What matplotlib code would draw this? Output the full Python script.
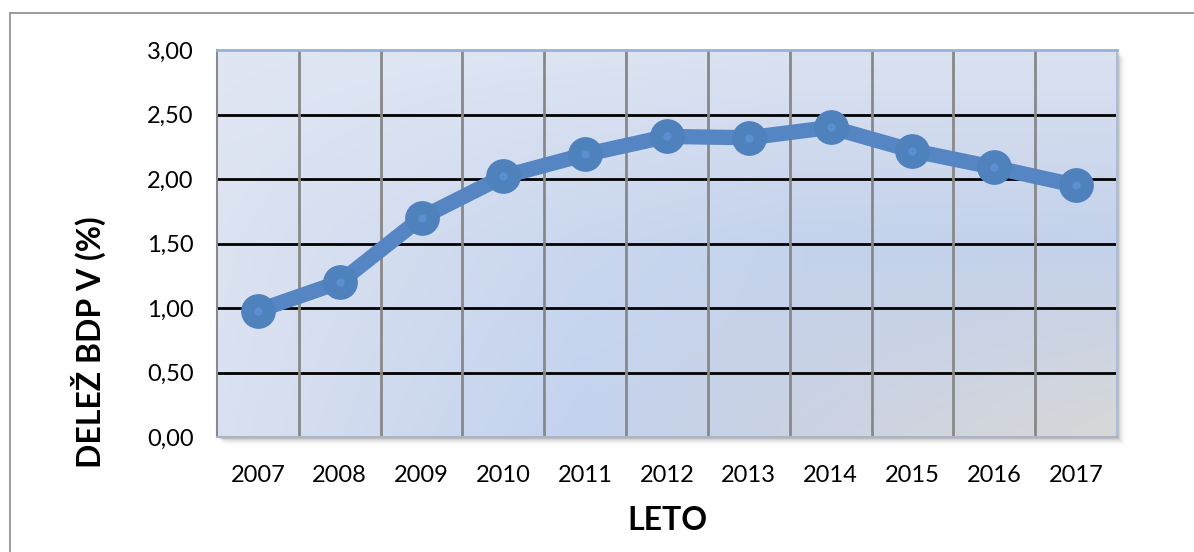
import numpy as np
import matplotlib
matplotlib.use("Agg")
import matplotlib.pyplot as plt
from matplotlib.patches import Rectangle
from matplotlib.colors import to_rgb

years = ["2007", "2008", "2009", "2010", "2011", "2012", "2013", "2014", "2015", "2016", "2017"]
values = [0.98, 1.20, 1.70, 2.02, 2.19, 2.33, 2.32, 2.40, 2.22, 2.09, 1.95]
y_ticks = [0.0, 0.5, 1.0, 1.5, 2.0, 2.5, 3.0]
y_tick_labels = ["0,00", "0,50", "1,00", "1,50", "2,00", "2,50", "3,00"]
x_title = "LETO"
y_title = "DELEŽ BDP V (%)"

plt.rcParams['font.family'] = ['Lato', 'DejaVu Sans']

W, H = 1194, 552
fig = plt.figure(figsize=(W / 100, H / 100), dpi=100)
fig.patch.set_facecolor('white')

L, R, T, B = 217, 1117, 50, 437
ax = fig.add_axes([L / W, 1 - B / H, (R - L) / W, (B - T) / H])
ax.set_zorder(5)

# outer chart border (left and top visible)
fig.patches.append(Rectangle((9.5 / W, -0.2), 1.5, 1.2 - 13 / H,
                             transform=fig.transFigure, fill=False,
                             edgecolor='#8a8a8a', linewidth=1.2, zorder=-2))

# soft shadow of plot area
for i, a in enumerate([0.10, 0.07, 0.05, 0.03, 0.02]):
    off = (i + 1) * 1.6
    fig.patches.append(Rectangle(((L + off) / W, 1 - (B + off) / H),
                                 (R - L) / W, (B - T) / H,
                                 transform=fig.transFigure, facecolor='black',
                                 edgecolor='none', alpha=a, zorder=-1))

# background gradient
gx = [0.0, 0.4, 0.65, 1.0]
gy = [0.0, 0.5, 1.0]  # 0=top, 1=bottom
gcols = [
    ["#e0e6f3", "#dde4f2", "#dbe2f1", "#dbe2f1"],
    ["#dce3f1", "#cad7ef", "#c4d2ec", "#c3d1eb"],
    ["#dae1f0", "#c3d2ee", "#cbd2e2", "#d8d8d8"],
]
grid = np.array([[to_rgb(c) for c in row] for row in gcols])
nx, ny = 400, 200
xs = np.linspace(0, 1, nx)
ys = np.linspace(0, 1, ny)
tmp = np.zeros((len(gy), nx, 3))
for j in range(len(gy)):
    for k in range(3):
        tmp[j, :, k] = np.interp(xs, gx, grid[j, :, k])
img = np.zeros((ny, nx, 3))
for i in range(nx):
    for k in range(3):
        img[:, i, k] = np.interp(ys, gy, tmp[:, i, k])

n = len(years)
ax.imshow(img, extent=[-0.5, n - 0.5, 0, 3.0], aspect='auto', origin='upper',
          zorder=0, interpolation='bilinear')

ax.set_xlim(-0.5, n - 0.5)
ax.set_ylim(0, 3.0)

# gridlines
for yv in y_ticks[1:-1]:
    ax.axhline(yv, color='black', linewidth=2.0, zorder=1)
for k in range(1, n):
    ax.axvline(k - 0.5, color='#888888', linewidth=2.0, zorder=1)

x = np.arange(n)
ax.plot(x, values, color='#5585c2', linewidth=11, zorder=3, solid_capstyle='round')
ax.plot(x, values, linestyle='none', marker='o', markersize=24,
        markerfacecolor='#4f81bd', markeredgecolor='#4f81bd', zorder=4)
ax.plot(x, values, linestyle='none', marker='o', markersize=6,
        markerfacecolor='#5a8fd2', markeredgecolor='none', zorder=5)

ax.set_xticks(x)
ax.set_xticklabels(years, fontsize=17)
ax.set_yticks(y_ticks)
ax.set_yticklabels(y_tick_labels, fontsize=17)
ax.tick_params(axis='both', length=0, colors='black')
ax.tick_params(axis='x', pad=20)
ax.tick_params(axis='y', pad=17)

ax.spines['right'].set_color('#a9bedf')
ax.spines['right'].set_linewidth(1.5)
ax.spines['top'].set_color('#95b3d7')
ax.spines['top'].set_linewidth(2)
ax.spines['left'].set_color('#8a8a8a')
ax.spines['left'].set_linewidth(1.5)
ax.spines['bottom'].set_color('#aab4c6')
ax.spines['bottom'].set_linewidth(1.5)

fig.text(667 / W, 1 - 520 / H, x_title, fontsize=23, fontweight='bold',
         ha='center', va='center')
fig.text(88 / W, 1 - 342 / H, y_title, fontsize=23, fontweight='bold',
         ha='center', va='center', rotation=90)

fig.savefig("out.png", dpi=100)
